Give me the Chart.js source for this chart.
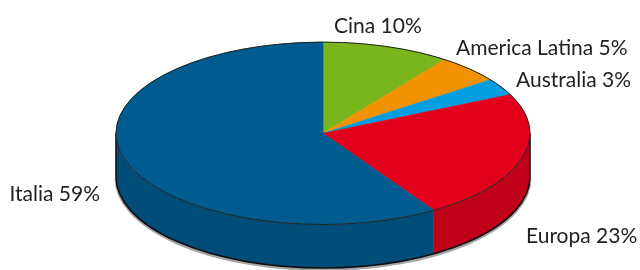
<!DOCTYPE html>
<html lang="it">
<head>
  <meta charset="UTF-8">
  <title>Ripartizione</title>
  <script src="https://cdn.jsdelivr.net/npm/chart.js"></script>
  <style>
    html, body {
      margin: 0;
      padding: 0;
      background: #fff;
    }
    canvas {
      display: block;
    }
  </style>
</head>
<body>
  <canvas id="torta" width="640" height="270"></canvas>

  <script>
    // dati
    const categorie = ['Cina', 'America Latina', 'Australia', 'Europa', 'Italia'];
    const quote = [10, 5, 3, 23, 59];

    // colori del piano e del bordo laterale
    const coloriSopra = ['#7ab51d', '#f39200', '#009ee0', '#e2001a', '#005b8e'];
    const coloriLato = ['#5f9015', '#c77700', '#007fb8', '#be0019', '#004d79'];

    // geometria della torta (schermo)
    const CX = 323, CY = 133.3, RX = 207, RY = 91.2, SPESSORE = 43.5;

    // dove vanno le etichette: x, linea di base, allineamento
    const posEtichette = [
      [334, 33, 'left'],
      [456, 55, 'left'],
      [516, 87, 'left'],
      [526, 243, 'left'],
      [100, 201, 'right']
    ];

    function fronte(a, b) {
      // parte di [a,b] che sta nella metà anteriore (0..PI)
      const s = Math.max(a, 0), e = Math.min(b, Math.PI);
      return s < e ? [s, e] : null;
    }

    const torta3d = {
      id: 'torta3d',
      beforeDatasetsDraw(chart) {
        const ctx = chart.ctx;
        const archi = chart.getDatasetMeta(0).data;
        const a0 = archi[0];
        const r = a0.outerRadius;

        ctx.save();

        // ombra sotto il bordo
        ctx.beginPath();
        ctx.ellipse(CX, CY + SPESSORE + 1.5, RX, RY, 0, 0, Math.PI);
        ctx.strokeStyle = 'rgba(0,0,0,0.35)';
        ctx.lineWidth = 3;
        ctx.stroke();

        // bordo laterale
        archi.forEach((arco, i) => {
          const f = fronte(arco.startAngle, arco.endAngle);
          if (!f) return;
          ctx.beginPath();
          ctx.ellipse(CX, CY, RX, RY, 0, f[0], f[1]);
          ctx.ellipse(CX, CY + SPESSORE, RX, RY, 0, f[1], f[0], true);
          ctx.closePath();
          ctx.fillStyle = coloriLato[i];
          ctx.fill();
        });

        // contorno del lato
        ctx.beginPath();
        ctx.moveTo(CX - RX, CY);
        ctx.lineTo(CX - RX, CY + SPESSORE);
        ctx.ellipse(CX, CY + SPESSORE, RX, RY, 0, Math.PI, 0, true);
        ctx.lineTo(CX + RX, CY);
        ctx.strokeStyle = '#111';
        ctx.lineWidth = 1.6;
        ctx.stroke();

        // il piano lo disegna Chart.js, schiacciato sull'ellisse
        ctx.translate(CX, CY);
        ctx.scale(RX / r, RY / r);
        ctx.translate(-a0.x, -a0.y);
      },
      afterDatasetsDraw(chart) {
        const ctx = chart.ctx;
        ctx.restore();

        // contorno del piano
        ctx.save();
        ctx.beginPath();
        ctx.ellipse(CX, CY, RX, RY, 0, 0, Math.PI * 2);
        ctx.strokeStyle = '#222';
        ctx.lineWidth = 1;
        ctx.stroke();

        // etichette
        ctx.fillStyle = '#222';
        ctx.font = '21px Lato, "Open Sans", sans-serif';
        ctx.textBaseline = 'alphabetic';
        categorie.forEach((nome, i) => {
          const p = posEtichette[i];
          ctx.textAlign = p[2];
          ctx.fillText(nome + ' ' + quote[i] + '%', p[0], p[1]);
        });
        ctx.restore();
      }
    };

    new Chart(document.getElementById('torta'), {
      type: 'pie',
      data: {
        labels: categorie,
        datasets: [{
          data: quote,
          backgroundColor: coloriSopra,
          borderColor: coloriSopra,
          borderWidth: 0.5,
          clip: false
        }]
      },
      options: {
        responsive: false,
        animation: false,
        plugins: {
          legend: { display: false },
          tooltip: { enabled: false }
        }
      },
      plugins: [torta3d]
    });
  </script>
</body>
</html>
